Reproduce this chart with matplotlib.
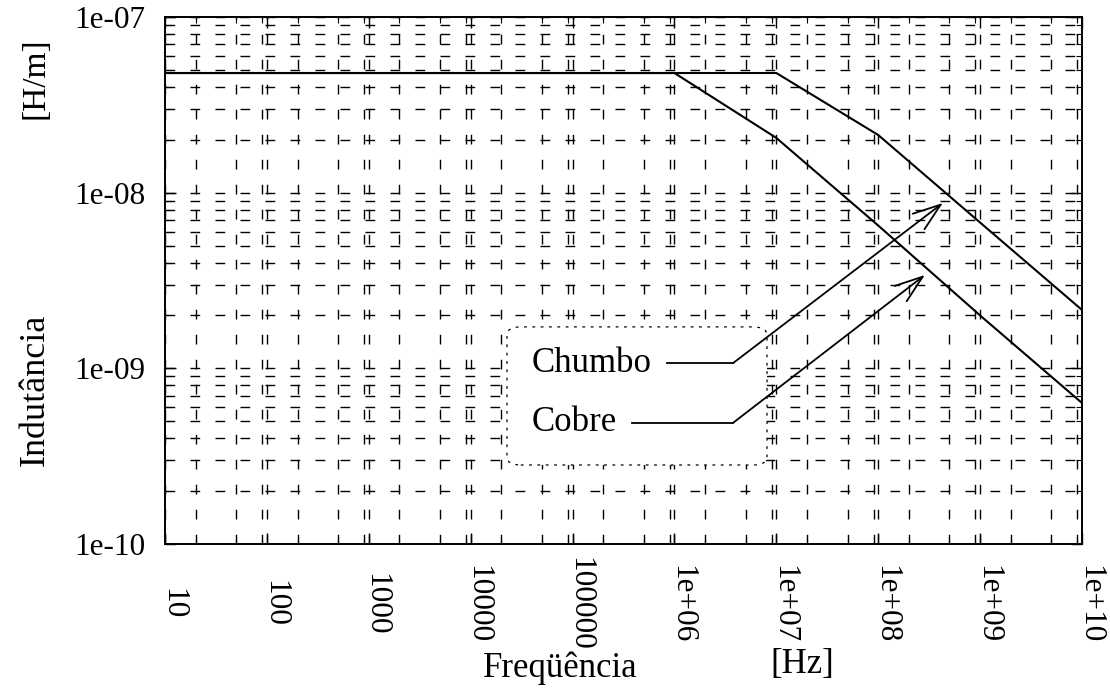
import matplotlib
matplotlib.use('Agg')
import matplotlib.pyplot as plt
import matplotlib.transforms as mtransforms
from matplotlib.ticker import LogLocator, NullFormatter
from matplotlib.patches import FancyBboxPatch

plt.rcParams['font.family'] = ['Liberation Serif', 'DejaVu Serif']
plt.rcParams['lines.scale_dashes'] = False

# frequency [Hz] and per-unit-length inductance [H/m]
freq = [1e1, 1e2, 1e3, 1e4, 1e5, 1e6, 1e7, 1e8, 1e9, 1e10]
L_chumbo = [4.8e-8, 4.8e-8, 4.8e-8, 4.8e-8, 4.8e-8, 4.8e-8, 4.8e-8, 2.13e-8, 6.76e-9, 2.15e-9]
L_cobre = [4.8e-8, 4.8e-8, 4.8e-8, 4.8e-8, 4.8e-8, 4.8e-8, 2.05e-8, 6.5e-9, 2.0e-9, 6.35e-10]

xtick_vals = [1e1, 1e2, 1e3, 1e4, 1e5, 1e6, 1e7, 1e8, 1e9, 1e10]
xtick_labels = ['10', '100', '1000', '10000', '100000',
                '1e+06', '1e+07', '1e+08', '1e+09', '1e+10']
ytick_vals = [1e-10, 1e-9, 1e-8, 1e-7]
ytick_labels = ['1e-10', '1e-09', '1e-08', '1e-07']

# label text, elbow of the leader line and arrow tip, in data coords
chumbo_text = (6.0e5, 1.07e-9)
chumbo_leader = ([8.44e5, 3.75e6], [1.07e-9, 1.07e-9])
chumbo_tip = (4.31e8, 8.74e-9)
cobre_text = (2.73e5, 4.89e-10)
cobre_leader = ([3.83e5, 3.75e6], [4.89e-10, 4.89e-10])
cobre_tip = (2.87e8, 3.40e-9)

fig = plt.figure(figsize=(11.1, 6.89), dpi=100)
ax = fig.add_axes([0.1486, 0.2104, 0.8262, 0.7649])

ax.set_xscale('log')
ax.set_yscale('log')
ax.set_xlim(1e1, 1e10)
ax.set_ylim(1e-10, 1e-7)

ax.set_xticks(xtick_vals)
ax.set_xticklabels(xtick_labels, rotation=-90, ha='left', va='center')
ax.set_yticks(ytick_vals)
ax.set_yticklabels(ytick_labels)
ax.xaxis.set_minor_locator(LogLocator(base=10, subs=(2, 5, 9), numticks=60))
ax.yaxis.set_minor_locator(LogLocator(base=10, subs=(2, 3, 4, 5, 6, 7, 8, 9), numticks=60))
ax.xaxis.set_minor_formatter(NullFormatter())
ax.yaxis.set_minor_formatter(NullFormatter())

ax.tick_params(which='both', direction='in', top=True, right=True, color='black')
ax.tick_params(which='major', length=8, width=1)
ax.tick_params(which='minor', length=4, width=0.8)
ax.tick_params(axis='x', which='major', pad=43, labelsize=22.5)
ax.tick_params(axis='y', which='major', pad=14, labelsize=22.5)

# nudge the rotated frequency labels a little to the left
shift = mtransforms.ScaledTranslation(-7 / 100, 0, fig.dpi_scale_trans)
for lbl in ax.get_xticklabels():
    lbl.set_transform(lbl.get_transform() + shift)

for sp in ax.spines.values():
    sp.set_linewidth(1.4)

ax.set_axisbelow(True)
ax.grid(True, which='both', color='black', linewidth=1.0, linestyle=(0, (7, 11)))

# white key box with dotted rounded border, hides the grid behind the labels
key_box = FancyBboxPatch((0.373, 0.15), 0.2835, 0.262,
                         boxstyle='round,pad=0,rounding_size=0.015',
                         transform=ax.transAxes, facecolor='white',
                         edgecolor='black', linewidth=0.9,
                         linestyle=(0, (2, 4)), zorder=2)
ax.add_patch(key_box)

ax.plot(freq, L_chumbo, color='black', linewidth=1.5, zorder=3)
ax.plot(freq, L_cobre, color='black', linewidth=1.5, zorder=3)

arrow = dict(arrowstyle='->,head_length=1.0,head_width=0.35', color='black',
             linewidth=1.3, shrinkA=0, shrinkB=0, mutation_scale=20)
for txt, pos, leader, tip in [('Chumbo', chumbo_text, chumbo_leader, chumbo_tip),
                              ('Cobre', cobre_text, cobre_leader, cobre_tip)]:
    ax.text(pos[0], pos[1], txt, ha='right', va='center', fontsize=25, zorder=4)
    ax.plot(leader[0], leader[1], color='black', linewidth=1.3, zorder=4)
    ax.annotate('', xy=tip, xytext=(leader[0][1], leader[1][1]),
                arrowprops=arrow, zorder=4)

fig.text(560 / 1110, 1 - 668 / 689, 'Freqüência', ha='center', va='center', fontsize=25)
fig.text(802 / 1110, 1 - 665 / 689, '[Hz]', ha='center', va='center', fontsize=25)
fig.text(35 / 1110, 1 - 390 / 689, 'Indutância', rotation=90, ha='center', va='center', fontsize=26)
fig.text(35 / 1110, 1 - 78 / 689, '[H/m]', rotation=90, ha='center', va='center', fontsize=24)

fig.savefig('out.png', dpi=100, facecolor='white')
